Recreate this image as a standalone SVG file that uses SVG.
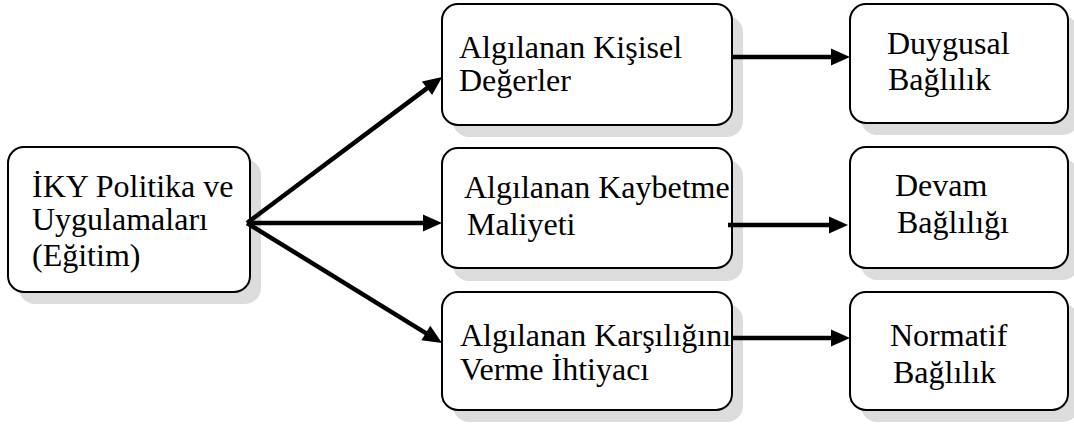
<svg xmlns="http://www.w3.org/2000/svg" width="1074" height="428" viewBox="0 0 1074 428">
  <style>
    .shadow { fill: #dcdcdc; stroke: none; }
    .box { fill: #ffffff; stroke: #000000; stroke-width: 2; }
    .lbl { font-family: "Liberation Serif", "Times New Roman", serif; font-size: 32px; fill: #000000; }
    .conn { stroke: #000000; stroke-width: 4.5; fill: none; marker-end: url(#head); }
  </style>
  <defs>
    <!-- solid arrowhead; the line stops 10px short of the tip -->
    <marker id="head" markerUnits="userSpaceOnUse" markerWidth="21" markerHeight="18" refX="9" refY="8.5" orient="auto" overflow="visible">
      <path d="M0,0 L19,8.5 L0,17 Z" fill="#000000"/>
    </marker>
  </defs>

  <rect width="1074" height="428" fill="#ffffff"/>

  <!-- source -->
  <g id="iky">
    <rect class="shadow" x="19" y="159" width="242" height="145" rx="16"/>
    <rect class="box" x="8" y="147" width="242" height="145" rx="16"/>
    <text class="lbl" x="32" y="197">İKY Politika ve</text>
    <text class="lbl" x="32" y="230">Uygulamaları</text>
    <text class="lbl" x="32" y="266">(Eğitim)</text>
  </g>

  <!-- perceived factors -->
  <g id="kisisel">
    <rect class="shadow" x="453" y="16" width="290" height="121" rx="16"/>
    <rect class="box" x="442" y="4" width="290" height="121" rx="16"/>
    <text class="lbl" x="459" y="58">Algılanan Kişisel</text>
    <text class="lbl" x="459" y="91">Değerler</text>
  </g>
  <g id="kaybetme">
    <rect class="shadow" x="453" y="160" width="290" height="121" rx="16"/>
    <rect class="box" x="442" y="148" width="290" height="120" rx="16"/>
    <text class="lbl" x="464" y="198">Algılanan Kaybetme</text>
    <text class="lbl" x="467" y="235">Maliyeti</text>
  </g>
  <g id="karsilik">
    <rect class="shadow" x="453" y="304" width="290" height="118" rx="16"/>
    <rect class="box" x="442" y="292" width="290" height="118" rx="16"/>
    <text class="lbl" x="460" y="346">Algılanan Karşılığını</text>
    <text class="lbl" x="460" y="380">Verme İhtiyacı</text>
  </g>

  <!-- commitment types -->
  <g id="duygusal">
    <rect class="shadow" x="861" y="16" width="218" height="119" rx="16"/>
    <rect class="box" x="850" y="4" width="218" height="119" rx="16"/>
    <text class="lbl" x="887" y="54">Duygusal</text>
    <text class="lbl" x="888" y="90">Bağlılık</text>
  </g>
  <g id="devam">
    <rect class="shadow" x="861" y="159" width="218" height="121" rx="16"/>
    <rect class="box" x="850" y="147" width="218" height="121" rx="16"/>
    <text class="lbl" x="895" y="196">Devam</text>
    <text class="lbl" x="897" y="233">Bağlılığı</text>
  </g>
  <g id="normatif">
    <rect class="shadow" x="861" y="304" width="218" height="118" rx="16"/>
    <rect class="box" x="850" y="292" width="218" height="118" rx="16"/>
    <text class="lbl" x="890" y="346">Normatif</text>
    <text class="lbl" x="893" y="383">Bağlılık</text>
  </g>

  <!-- connectors -->
  <g id="connectors">
    <path class="conn" d="M247,223 L434.2,82.9"/>
    <path class="conn" d="M247,223 L432,223"/>
    <path class="conn" d="M247,223 L433.5,337.8"/>
    <path class="conn" d="M732,57 L840,57"/>
    <path class="conn" d="M728,225 L838,225"/>
    <path class="conn" d="M732,338 L840,338"/>
  </g>
</svg>
